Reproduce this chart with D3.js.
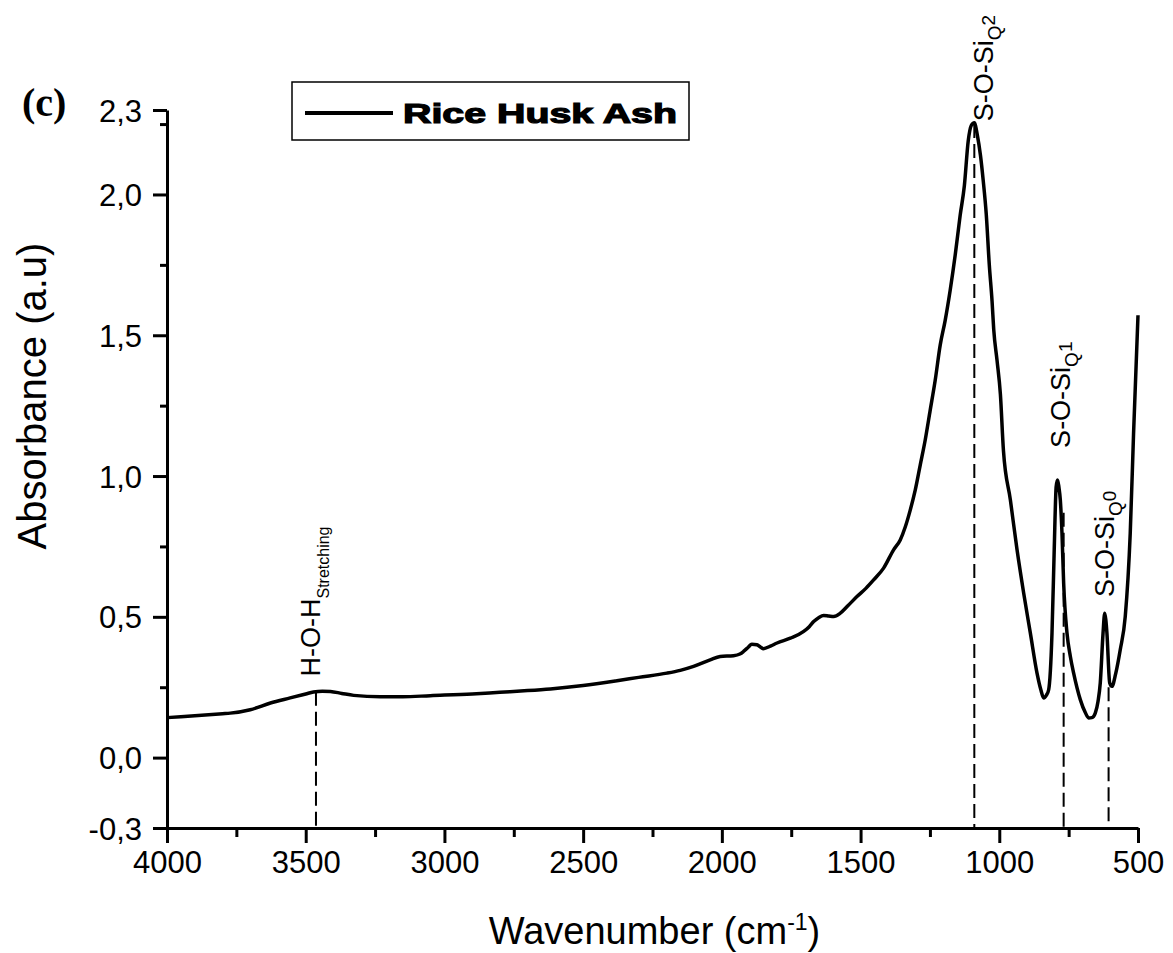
<!DOCTYPE html>
<html>
<head>
<meta charset="utf-8">
<script src="https://cdn.jsdelivr.net/npm/d3@7"></script>
<style>
  html, body { margin: 0; padding: 0; background: #fff; }
  svg { display: block; }
  text { font-family: "Liberation Sans", Arial, sans-serif; fill: #000; }
</style>
</head>
<body>
<svg id="chart" width="1173" height="953"></svg>
<script>
// FTIR absorbance spectrum of rice husk ash
const wavenumber = [
  4000, 3900, 3800, 3772, 3700, 3627, 3556, 3500, 3472, 3440, 3411, 3370, 3327, 3231, 3150,
  3051, 2900, 2800, 2700, 2618, 2500, 2378, 2300, 2198, 2150, 2102, 2042, 2006, 1958, 1935,
  1922, 1905, 1892, 1874, 1860, 1850, 1825, 1801, 1753, 1705, 1685, 1669, 1650, 1633, 1615,
  1597, 1573, 1545, 1513, 1480, 1453, 1417, 1381, 1357, 1339, 1321, 1303, 1285, 1267, 1249,
  1231, 1213, 1195, 1177, 1159, 1141, 1126, 1112, 1101, 1090, 1079, 1068, 1058, 1047, 1036,
  1026, 1020, 1008, 996, 985, 960, 936, 912, 888, 864, 850, 840, 830, 822, 810,
  802, 795, 790, 785, 780, 774, 768, 756, 744, 732, 708, 690, 678, 666, 654,
  644, 636, 626, 620, 616, 612, 602, 594, 580, 564, 546, 528, 516, 500
];
const absorbance = [
  0.142, 0.149, 0.156, 0.158, 0.170, 0.194, 0.212, 0.226, 0.233, 0.236, 0.235, 0.228, 0.221, 0.216, 0.216,
  0.220, 0.226, 0.232, 0.238, 0.244, 0.256, 0.273, 0.285, 0.300, 0.310, 0.324, 0.347, 0.359, 0.362, 0.368,
  0.377, 0.392, 0.403, 0.401, 0.392, 0.387, 0.396, 0.407, 0.424, 0.448, 0.465, 0.483, 0.498, 0.505, 0.503,
  0.501, 0.513, 0.540, 0.572, 0.602, 0.631, 0.673, 0.738, 0.773, 0.819, 0.879, 0.950, 1.039, 1.128, 1.234,
  1.340, 1.465, 1.553, 1.660, 1.784, 1.926, 2.030, 2.190, 2.245, 2.255, 2.210, 2.140, 2.050, 1.930, 1.750,
  1.620, 1.520, 1.410, 1.290, 1.090, 0.915, 0.738, 0.584, 0.442, 0.300, 0.240, 0.212, 0.222, 0.241, 0.442,
  0.738, 0.962, 0.986, 0.960, 0.915, 0.797, 0.620, 0.443, 0.360, 0.300, 0.206, 0.160, 0.141, 0.142, 0.158,
  0.200, 0.265, 0.442, 0.513, 0.490, 0.442, 0.265, 0.253, 0.300, 0.383, 0.501, 0.797, 1.151, 1.571
];

// Axis ticks
const xMajorTicks = [4000, 3500, 3000, 2500, 2000, 1500, 1000, 500];
const xMinorTicks = [3750, 3250, 2750, 2250, 1750, 1250, 750];
const yMajorTicks = [-0.25, 0, 0.5, 1, 1.5, 2, 2.3];
const yTickLabels = ["-0,3", "0,0", "0,5", "1,0", "1,5", "2,0", "2,3"];
const yMinorTicks = [0.25, 0.75, 1.25, 1.75, 2.25];

// Band assignments: position, height where the dashed marker starts, label
const bandWavenumber = [3463, 1090, 768, 606];
const bandTop = [0.234, 2.25, 0.87, 0.25];
const bandMain = ["H-O-H", "S-O-Si", "S-O-Si", "S-O-Si"];
const bandSub = ["Stretching", "Q", "Q", "Q"];
const bandSup = ["", "2", "1", "0"];
const bandLabelStart = [0.288, 2.26, 1.10, 0.57];

const seriesName = "Rice Husk Ash";

const svg = d3.select("#chart");
const x = d3.scaleLinear().domain([4000, 500]).range([167, 1138]);
const y = d3.scaleLinear().domain([-0.25, 2.3]).range([828, 110]);

const axisColor = "#000";
const axisWidth = 3;

// X axis
const gx = svg.append("g").attr("transform", `translate(0,${y(-0.25)})`);
gx.call(d3.axisBottom(x).tickValues(xMajorTicks).tickSize(15).tickSizeOuter(0).tickPadding(8)
  .tickFormat(d3.format("d")));
gx.append("g").call(d3.axisBottom(x).tickValues(xMinorTicks).tickSize(9).tickFormat(""))
  .select(".domain").remove();

// Y axis
const gy = svg.append("g").attr("transform", `translate(${x(4000)},0)`);
gy.call(d3.axisLeft(y).tickValues(yMajorTicks).tickSize(14).tickSizeOuter(0).tickPadding(11)
  .tickFormat((d, i) => yTickLabels[i]));
gy.append("g").call(d3.axisLeft(y).tickValues(yMinorTicks).tickSize(7).tickFormat(""))
  .select(".domain").remove();

svg.selectAll(".domain, .tick line")
  .attr("stroke", axisColor).attr("stroke-width", axisWidth);
svg.selectAll(".tick text")
  .style("font-family", "'Liberation Sans', Arial, sans-serif")
  .style("font-size", "31px").attr("fill", "#000");
gy.selectAll(".tick text").attr("dy", "0.36em");

// Axis titles
const xt = svg.append("text")
  .attr("x", (x(4000) + x(500)) / 2 + 2).attr("y", 944)
  .attr("text-anchor", "middle").style("font-size", "38px");
xt.append("tspan").text("Wavenumber (cm");
xt.append("tspan").attr("dy", "-14").style("font-size", "23px").text("-1");
xt.append("tspan").attr("dy", "14").text(")");

svg.append("text")
  .attr("transform", "translate(46,396) rotate(-90)")
  .attr("text-anchor", "middle").style("font-size", "40px")
  .text("Absorbance (a.u)");

// Panel letter
svg.append("text")
  .attr("x", 22).attr("y", 116)
  .style("font-family", "'Liberation Serif', 'Times New Roman', serif")
  .style("font-weight", "bold").style("font-size", "40px")
  .text("(c)");

// Dashed band markers
const bands = bandWavenumber.map((w, i) => ({
  w, top: bandTop[i], main: bandMain[i], sub: bandSub[i], sup: bandSup[i], start: bandLabelStart[i]
}));
svg.append("g").selectAll("line").data(bands).join("line")
  .attr("x1", d => x(d.w)).attr("x2", d => x(d.w))
  .attr("y1", d => y(d.top)).attr("y2", y(-0.25))
  .attr("stroke", "#000").attr("stroke-width", 2).attr("stroke-dasharray", "14,6");

// Spectrum
const spectrum = wavenumber.map((w, i) => [w, absorbance[i]]);
svg.append("path")
  .datum(spectrum)
  .attr("fill", "none").attr("stroke", "#000").attr("stroke-width", 3.5)
  .attr("stroke-linejoin", "round")
  .attr("d", d3.line().x(d => x(d[0])).y(d => y(d[1])).curve(d3.curveMonotoneX));

// Band labels (vertical)
const labelOffset = [4, 19, 6, 5];
bands.forEach((d, i) => {
  const t = svg.append("text")
    .attr("transform", `translate(${x(d.w) + labelOffset[i]},${y(d.start)}) rotate(-90)`)
    .style("font-size", "27px");
  t.append("tspan").text(d.main);
  if (d.sup) {
    t.append("tspan").attr("dy", "8").style("font-size", "19px").text(d.sub);
    t.append("tspan").attr("dy", "-6").style("font-size", "19px").text(d.sup);
  } else {
    t.append("tspan").attr("dy", "9").style("font-size", "16px").text(d.sub);
  }
});

// Legend
const lg = svg.append("g");
lg.append("rect").attr("x", 292).attr("y", 82).attr("width", 397).attr("height", 58)
  .attr("fill", "#fff").attr("stroke", "#000").attr("stroke-width", 1.5);
lg.append("line").attr("x1", 305).attr("x2", 393).attr("y1", 113).attr("y2", 113)
  .attr("stroke", "#000").attr("stroke-width", 4);
lg.append("text").attr("x", 403).attr("y", 123)
  .attr("textLength", 274).attr("lengthAdjust", "spacingAndGlyphs")
  .style("font-weight", "bold").style("font-size", "28px")
  .attr("stroke", "#000").attr("stroke-width", 1.2)
  .text(seriesName);
</script>
</body>
</html>
